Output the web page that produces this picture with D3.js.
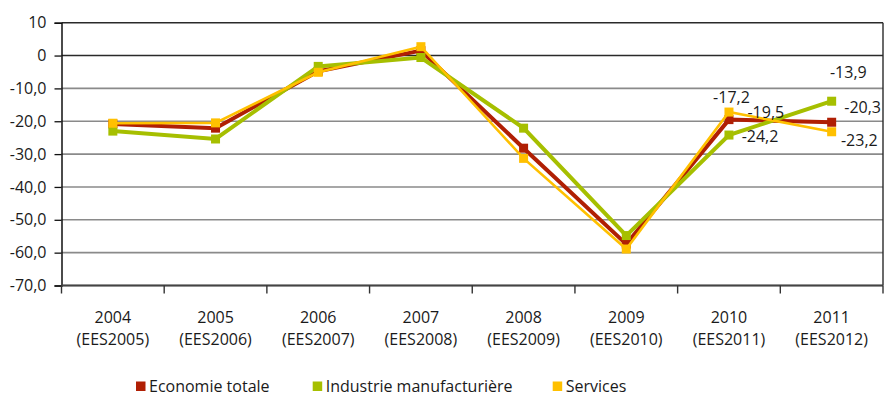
<!DOCTYPE html>
<html>
<head>
<meta charset="utf-8">
<script src="https://cdn.jsdelivr.net/npm/d3@7"></script>
<style>
  body { margin: 0; background: #fff; }
  svg text { font-family: "Open Sans", "Noto Sans", sans-serif; fill: #1a1a1a; }
</style>
</head>
<body>
<svg id="chart" width="884" height="397"></svg>
<script>
// Categories: survey year and the EES edition it comes from
const years = ["2004", "2005", "2006", "2007", "2008", "2009", "2010", "2011"];
const surveys = ["(EES2005)", "(EES2006)", "(EES2007)", "(EES2008)", "(EES2009)", "(EES2010)", "(EES2011)", "(EES2012)"];

// Series (balance, %)
const seriesNames = ["Economie totale", "Industrie manufacturière", "Services"];
const economieTotale = [-20.8, -22.1, -4.8, 1.5, -28.2, -57.4, -19.5, -20.3];
const industrie      = [-23.0, -25.4, -3.3, -0.6, -22.1, -54.8, -24.2, -13.9];
const services       = [-20.6, -20.5, -5.1, 2.7, -31.3, -58.9, -17.2, -23.2];

// Value axis
const yTickValues = [10, 0, -10, -20, -30, -40, -50, -60, -70];
const yTickLabels = ["10", "0", "-10,0", "-20,0", "-30,0", "-40,0", "-50,0", "-60,0", "-70,0"];

// Years whose values are written next to the points
const labelledYears = ["2010", "2011"];

const colors = ["#b01f04", "#a6bf00", "#ffc000"];
const lineWidths = [4, 4, 2.6];

// Placement of the value labels: [series][labelled year] -> dx, dy, anchor
const labelPlacement = [
  [{dx: 18.5, dy: -1.3, a: "start"}, {dx: 12.6, dy: -9.5, a: "start"}],
  [{dx: 12.7, dy: 7.0, a: "start"},  {dx: -1.7, dy: -22.8, a: "start"}],
  [{dx: 2.5, dy: -8.7, a: "middle"}, {dx: 9.3, dy: 14.0, a: "start"}]
];

const svg = d3.select("#chart");
const plotLeft = 61.5, plotRight = 883, plotTop = 22.7, plotBottom = 285.5;

const x = d3.scaleBand().domain(years).range([plotLeft, plotRight]);
const y = d3.scaleLinear().domain([10, -70]).range([plotTop, plotBottom]);
const cx = d => x(d) + x.bandwidth() / 2;

const seriesValues = [economieTotale, industrie, services];

// Horizontal grid
svg.append("g")
  .selectAll("line")
  .data(yTickValues)
  .join("line")
  .attr("x1", plotLeft).attr("x2", plotRight)
  .attr("y1", d => y(d)).attr("y2", d => y(d))
  .attr("stroke", d => d >= 0 ? "#2a2a2a" : "#8a8a8a")
  .attr("stroke-width", d => d >= 0 ? 1.5 : 1.6);

// Right border of the plot
svg.append("line")
  .attr("x1", plotRight).attr("x2", plotRight)
  .attr("y1", y(10)).attr("y2", y(-70))
  .attr("stroke", "#2a2a2a").attr("stroke-width", 1.4);

// Y axis
const yAxis = svg.append("g")
  .attr("transform", `translate(${plotLeft},0)`)
  .call(d3.axisLeft(y).tickValues(yTickValues)
    .tickFormat((d, i) => yTickLabels[i]).tickSize(7).tickPadding(8));
yAxis.select(".domain").attr("stroke", "#111").attr("stroke-width", 1.5);
yAxis.selectAll(".tick line").attr("stroke", "#111").attr("stroke-width", 1.3);
yAxis.selectAll(".tick text")
  .attr("font-size", 16).attr("font-family", "\"Open Sans\", sans-serif").attr("fill", "#1a1a1a");

// X axis: baseline plus ticks at band boundaries
const xAxis = svg.append("g");
xAxis.append("line")
  .attr("x1", plotLeft).attr("x2", plotRight)
  .attr("y1", plotBottom).attr("y2", plotBottom)
  .attr("stroke", "#444").attr("stroke-width", 2);
xAxis.selectAll("line.tick")
  .data(years.map(d => x(d)).concat([plotRight]))
  .join("line")
  .attr("class", "tick")
  .attr("x1", d => d).attr("x2", d => d)
  .attr("y1", plotBottom).attr("y2", plotBottom + 8)
  .attr("stroke", "#333").attr("stroke-width", 1.4);

const catLabels = xAxis.selectAll("text")
  .data(years)
  .join("text")
  .attr("text-anchor", "middle")
  .attr("font-size", 16);
catLabels.append("tspan").attr("x", d => cx(d)).attr("y", 323).text(d => d);
catLabels.append("tspan").attr("x", d => cx(d)).attr("y", 345).text((d, i) => surveys[i]);

// Lines and square markers
const line = d3.line().x((v, i) => cx(years[i])).y(v => y(v));
seriesValues.forEach((vals, s) => {
  const g = svg.append("g");
  g.append("path")
    .attr("d", line(vals))
    .attr("fill", "none")
    .attr("stroke", colors[s])
    .attr("stroke-width", lineWidths[s])
    .attr("stroke-linejoin", "miter");
  g.selectAll("rect")
    .data(vals)
    .join("rect")
    .attr("x", (v, i) => cx(years[i]) - 4.5)
    .attr("y", v => y(v) - 4.5)
    .attr("width", 9).attr("height", 9)
    .attr("fill", colors[s]);
});

// Value labels
const fmt = v => d3.format(".1f")(v).replace(".", ",").replace("−", "-");
seriesValues.forEach((vals, s) => {
  labelledYears.forEach((yr, k) => {
    const i = years.indexOf(yr);
    const p = labelPlacement[s][k];
    svg.append("text")
      .attr("x", cx(yr) + p.dx)
      .attr("y", y(vals[i]) + p.dy)
      .attr("text-anchor", p.a)
      .attr("font-size", 16)
      .text(fmt(vals[i]));
  });
});

// Legend
const legendX = [136, 312.7, 552.7];
const legend = svg.append("g");
seriesNames.forEach((name, s) => {
  legend.append("rect")
    .attr("x", legendX[s]).attr("y", 381.5)
    .attr("width", 9.5).attr("height", 9.5)
    .attr("fill", colors[s]);
  legend.append("text")
    .attr("x", legendX[s] + 13).attr("y", 391.5)
    .attr("font-size", 16)
    .text(name);
});
</script>
</body>
</html>
